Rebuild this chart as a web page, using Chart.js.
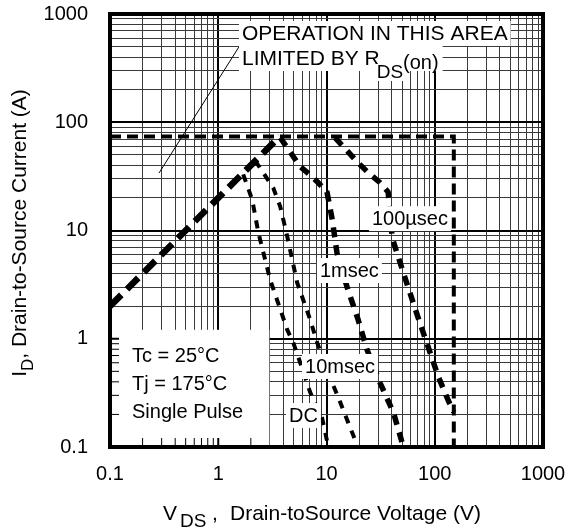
<!DOCTYPE html>
<html>
<head>
<meta charset="utf-8">
<script src="https://cdn.jsdelivr.net/npm/chart.js@4.4.1/dist/chart.umd.min.js"></script>
<style>
html,body{margin:0;padding:0;background:#fff;}
#wrap{width:569px;height:529px;position:relative;}
</style>
</head>
<body>
<div id="wrap"><canvas id="c" width="569" height="529"></canvas></div>
<script>
// ---- tick labels ----
const decades = [0.1, 1, 10, 100, 1000];
const decadeLabels = ['0.1', '1', '10', '100', '1000'];
const minorMultipliers = [2, 3, 4, 5, 6, 7, 8, 9];

// ---- series (V_DS in volts, I_D in amps) ----
const rdsV = [0.1, 3.7];
const rdsI = [2, 74];
const limitV = [0.1, 150, 150];
const limitI = [74, 74, 0.1];
const us100V = [12, 19.6, 24.3, 31.3, 37.1, 40.4, 46, 56.9, 70.3, 86.9, 107.5, 133, 150];
const us100I = [72, 42.2, 34.2, 27.6, 22.7, 8.6, 5.7, 2.96, 1.56, 0.84, 0.45, 0.27, 0.21];
const ms1V = [3.74, 5.72, 7.07, 8.4, 10.1, 11.3, 12.5, 15.5, 19.6, 23.7, 31.3, 41.6, 51.3];
const ms1I = [72, 38.9, 32.6, 27.6, 22.7, 12.6, 6.2, 3.0, 1.5, 0.79, 0.39, 0.207, 0.1];
const ms10V = [2.2, 3.22, 3.74, 4.34, 5.36, 7.07, 8.2, 11.3, 12.8, 16.6, 19.5];
const ms10I = [44, 24.8, 16.6, 8.8, 3.29, 1.5, 0.92, 0.39, 0.29, 0.15, 0.1];
const dcV = [1.7, 2.06, 2.34, 3.02, 4.34, 4.93, 5.72, 7.07, 9.1, 10.4];
const dcI = [33, 19.2, 9.7, 3.5, 1.21, 0.92, 0.60, 0.32, 0.186, 0.1];
const pointerV = [0.284, 1.55];
const pointerI = [34, 495];

// ---- text ----
const areaLine1 = 'OPERATION IN THIS AREA';
const areaLine2 = 'LIMITED BY R';
const areaSub = 'DS';
const areaTail = '(on)';
const curveLabels = ['100\u00b5sec', '1msec', '10msec', 'DC'];
const condLines = ['Tc = 25\u00b0C', 'Tj = 175\u00b0C', 'Single Pulse'];
const yTitleParts = ['I', 'D', ', Drain-to-Source Current (A)'];
const xTitleParts = ['V', 'DS', ',', 'Drain-toSource Voltage (V)'];

const FONT = '"Liberation Sans", Arial, Helvetica, sans-serif';
Chart.defaults.font.family = FONT;
Chart.defaults.font.size = 20;
Chart.defaults.color = '#000';

function zip(xs, ys) { return xs.map((v, i) => ({x: v, y: ys[i]})); }

const gridTicks = [];
decades.forEach((d, i) => {
  gridTicks.push({value: d, major: true, label: decadeLabels[i]});
  if (i < decades.length - 1) minorMultipliers.forEach(m => gridTicks.push({value: d * m, major: false, label: ''}));
});

function buildTicks(scale) {
  scale.ticks = gridTicks.map(t => ({value: t.value, major: t.major, label: t.label}));
}
function tickLabel(value, index) { return gridTicks[index] ? gridTicks[index].label : ''; }

const gridOpts = {
  drawTicks: false,
  color: ctx => (ctx.tick && ctx.tick.major) ? '#000' : '#3a3a3a',
  lineWidth: ctx => (ctx.tick && ctx.tick.major) ? 2 : 1
};

const overlay = {
  id: 'overlay',
  beforeDatasetsDraw(chart) {
    const {ctx, chartArea: a, scales: {x, y}} = chart;
    const right = x.getPixelForValue(3);
    const top = y.getPixelForValue(1.21);
    ctx.save();
    ctx.fillStyle = '#fff';
    ctx.fillRect(a.left, top, right - a.left - 0.6, a.bottom - top);
    ctx.strokeStyle = '#000';
    gridTicks.forEach(t => {
      if (t.value > 0.1 && t.value < 3) {
        const p = x.getPixelForValue(t.value);
        ctx.lineWidth = t.major ? 2 : 1;
        ctx.beginPath(); ctx.moveTo(p, a.bottom); ctx.lineTo(p, a.bottom - 9); ctx.stroke();
      }
      if (t.value > 0.1 && t.value < 1.21) {
        const p = y.getPixelForValue(t.value);
        ctx.lineWidth = t.major ? 2 : 1;
        ctx.beginPath(); ctx.moveTo(a.left, p); ctx.lineTo(a.left + 9, p); ctx.stroke();
      }
    });
    ctx.restore();
  },
  afterDatasetsDraw(chart) {
    const {ctx, chartArea: a, scales: {x, y}} = chart;
    ctx.save();
    ctx.textBaseline = 'alphabetic';
    const boxText = (text, px, base, font) => {
      ctx.font = font;
      const w = ctx.measureText(text).width;
      ctx.fillStyle = '#fff';
      ctx.fillRect(px - 3, base - 19, w + 6, 25);
      ctx.fillStyle = '#000';
      ctx.fillText(text, px, base);
      return w;
    };
    const f20 = '20px ' + FONT, f21 = '21px ' + FONT, f19 = '19px ' + FONT;
    // top-left note
    const nx = x.getPixelForValue(1.657);
    boxText(areaLine1, nx, y.getPixelForValue(575), f21);
    const b2 = y.getPixelForValue(338);
    ctx.font = f21;
    const w2 = ctx.measureText(areaLine2).width;
    ctx.font = f19;
    const wS = ctx.measureText(areaSub).width;
    ctx.font = f20;
    const wT = ctx.measureText(areaTail).width;
    ctx.fillStyle = '#fff';
    ctx.fillRect(nx - 3, b2 - 19, w2 + wS + wT + 4, 25);
    ctx.fillStyle = '#000';
    ctx.font = f21; ctx.fillText(areaLine2, nx, b2);
    const sx = nx + w2 - 3;
    ctx.fillStyle = '#fff';
    ctx.fillRect(sx - 1, b2 - 1, wS + 2, 17);
    ctx.fillStyle = '#000';
    ctx.font = f19; ctx.fillText(areaSub, sx, b2 + 13);
    ctx.font = f20; ctx.fillText(areaTail, sx + wS, b2 + 4);
    // curve labels
    boxText(curveLabels[0], x.getPixelForValue(26.3), y.getPixelForValue(11.2), f20);
    boxText(curveLabels[1], x.getPixelForValue(8.7), y.getPixelForValue(3.72), f20);
    boxText(curveLabels[2], x.getPixelForValue(6.33), y.getPixelForValue(0.483), f20);
    boxText(curveLabels[3], x.getPixelForValue(4.5), y.getPixelForValue(0.170), f20);
    // conditions
    ctx.font = f20;
    ctx.fillStyle = '#000';
    const cx = x.getPixelForValue(0.1597), cy = y.getPixelForValue(0.61);
    condLines.forEach((t, i) => ctx.fillText(t, cx, cy + i * 28));
    // frame
    ctx.strokeStyle = '#000';
    ctx.lineWidth = 4;
    ctx.strokeRect(a.left, a.top, a.right - a.left, a.bottom - a.top);
    ctx.restore();
  },
  afterDraw(chart) {
    const {ctx} = chart;
    const main = '21px ' + FONT, sub = '17px ' + FONT, subX = '19px ' + FONT;
    ctx.save();
    ctx.fillStyle = '#000';
    ctx.textBaseline = 'alphabetic';
    // y title (rotated)
    const yp = [[yTitleParts[0], main, 0], [yTitleParts[1], sub, 7], [yTitleParts[2], main, 0]];
    let tot = 0;
    yp.forEach(p => { ctx.font = p[1]; p.push(ctx.measureText(p[0]).width); tot += p[3]; });
    ctx.translate(26, 233);
    ctx.rotate(-Math.PI / 2);
    let cur = -tot / 2;
    yp.forEach(p => { ctx.font = p[1]; ctx.fillText(p[0], cur, p[2]); cur += p[3]; });
    ctx.setTransform(1, 0, 0, 1, 0, 0);
    // x title
    ctx.font = main; ctx.fillText(xTitleParts[0], 163, 520);
    ctx.font = subX; ctx.fillText(xTitleParts[1], 180, 527);
    ctx.font = main; ctx.fillText(xTitleParts[2], 212, 520);
    ctx.fillText(xTitleParts[3], 230, 520);
    ctx.restore();
  }
};

const base = {showLine: true, pointRadius: 0, borderColor: '#000', backgroundColor: '#000', fill: false, tension: 0, borderCapStyle: 'butt', borderJoinStyle: 'round'};

new Chart(document.getElementById('c'), {
  type: 'scatter',
  data: {
    datasets: [
      Object.assign({}, base, {label: 'pointer', data: zip(pointerV, pointerI), borderWidth: 1}),
      Object.assign({}, base, {label: 'DC', data: zip(dcV, dcI), borderWidth: 4, borderDash: [8, 8]}),
      Object.assign({}, base, {label: '10msec', data: zip(ms10V, ms10I), borderWidth: 4, borderDash: [8, 8]}),
      Object.assign({}, base, {label: '1msec', data: zip(ms1V, ms1I), borderWidth: 5.5, borderDash: [10, 8]}),
      Object.assign({}, base, {label: '100usec', data: zip(us100V, us100I), borderWidth: 5.5, borderDash: [10, 8]}),
      Object.assign({}, base, {label: 'limit', data: zip(limitV, limitI), borderWidth: 4, borderDash: [11, 6], borderJoinStyle: 'miter'}),
      Object.assign({}, base, {label: 'RDS(on)', data: zip(rdsV, rdsI), borderWidth: 6.5, borderDash: [16, 8]})
    ]
  },
  options: {
    responsive: false,
    animation: false,
    devicePixelRatio: 1,
    layout: {padding: {left: 0, right: 26, top: 14, bottom: 0}},
    plugins: {legend: {display: false}, tooltip: {enabled: false}},
    scales: {
      x: {
        type: 'logarithmic', min: 0.1, max: 1000, position: 'bottom',
        afterBuildTicks: buildTicks,
        afterFit: s => { s.height = 82; s.paddingLeft = 0; s.paddingRight = 0; },
        ticks: {callback: tickLabel, autoSkip: false, maxRotation: 0, minRotation: 0, padding: 15, color: '#000', font: {size: 20}},
        grid: gridOpts,
        border: {display: false}
      },
      y: {
        type: 'logarithmic', min: 0.1, max: 1000, position: 'left',
        afterBuildTicks: buildTicks,
        afterFit: s => { s.width = 110; s.paddingTop = 0; s.paddingBottom = 0; },
        ticks: {callback: tickLabel, autoSkip: false, padding: 22, color: '#000', font: {size: 20}},
        grid: gridOpts,
        border: {display: false}
      }
    }
  },
  plugins: [overlay]
});
</script>
</body>
</html>
